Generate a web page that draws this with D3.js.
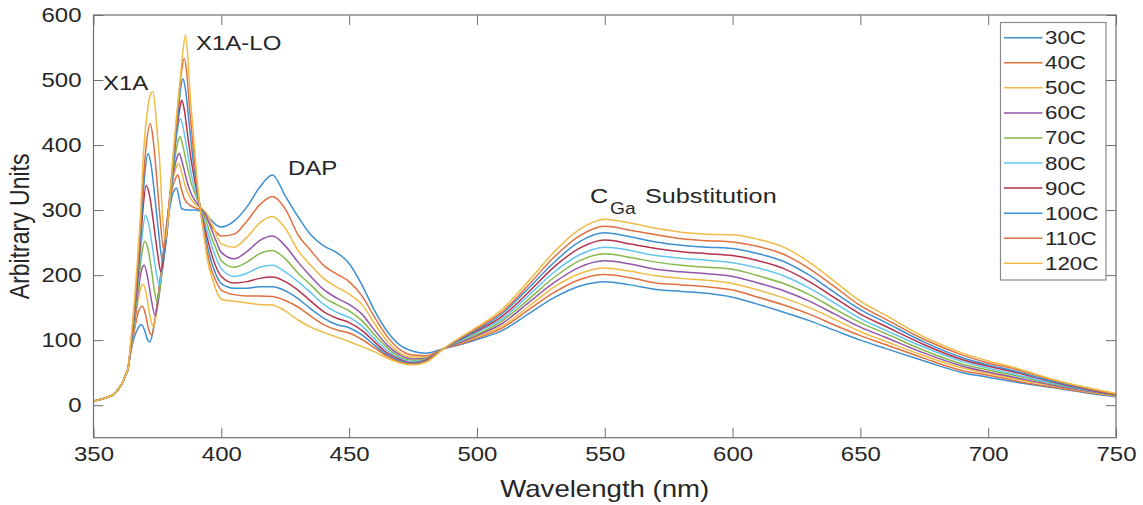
<!DOCTYPE html>
<html>
<head>
<meta charset="utf-8">
<script src="https://cdn.jsdelivr.net/npm/d3@7"></script>
<style>
  body { margin: 0; background: #fff; }
  text { font-family: "Liberation Sans", Arial, sans-serif; fill: #262626; }
</style>
</head>
<body>
<div id="chart"></div>
<script>
// PL spectra vs temperature
const labels = ["30C", "40C", "50C", "60C", "70C", "80C", "90C", "100C", "110C", "120C"];
const colors = ["#3d8fd1", "#e0703f", "#efbb45", "#9556a8", "#86b84a", "#62c5ef", "#b5324b", "#3d8fd1", "#e0703f", "#efbb45"];

// common onset, all curves overlap here
const headStart = [[350, 6], [353, 9], [356, 13], [358, 17], [360, 26], [361.5, 36], [362.5, 46], [363.5, 56]];

// X1A / X1A-LO region, [wavelength, value]
const h30 = [[364.5,80],[366,105],[367.5,119],[368.7,124],[370,115],[371,102],[372,97],[373.5,118],[375.5,175],[377.5,240],[379.5,295],[381,325],[382.5,334],[383.5,318],[384.5,302],[387,300],[390,300],[392,298],[394,294],[396,285],[398,277],[400,274]];
const h40 = [[364.5,81],[366,115],[367.5,143],[368.5,151],[369.2,152],[370.3,140],[371.5,118],[372.7,108],[374.2,135],[376,190],[378,258],[380,318],[382,348],[383,354],[384.2,335],[385.5,318],[387.5,308],[390,303],[392,300],[394,290],[396,276],[398,266],[400,260]];
const h50 = [[364.5,82],[366,120],[367.5,163],[368.6,182],[369.5,186],[370.7,170],[372.2,135],[373.4,120],[375,150],[376.8,210],[378.6,275],[380.5,335],[382.3,365],[383.3,372],[384.5,358],[386,335],[388,318],[390,308],[392,303],[394,296],[396,282],[398,262],[400,248]];
const h60 = [[364.5,83],[366,125],[367.5,175],[368.8,208],[369.8,215],[371,200],[372.5,165],[374.1,138],[375.5,165],[377.3,225],[379,290],[381,350],[382.6,380],[383.5,387],[384.8,372],[386.5,345],[388,327],[390,313],[392,303],[394,292],[396,272],[398,252],[400,235]];
const h70 = [[364.5,84],[366,130],[367.5,185],[369,235],[370,252],[371.2,242],[372.8,205],[374,172],[374.8,160],[376.2,185],[378,245],[379.8,310],[381.5,370],[383,405],[383.8,413],[385,398],[386.5,370],[388,345],[390,322],[392,303],[394,284],[396,260],[398,240],[400,222]];
const h80 = [[364.5,86],[366,135],[367.5,195],[369,260],[370.3,292],[371.5,280],[373,245],[374.5,205],[375.7,185],[377,210],[378.7,270],[380.3,335],[382,400],[383.2,432],[384,441],[385,428],[386.5,395],[388,360],[390,328],[392,302],[394,275],[396,248],[398,226],[400,210]];
const h90 = [[364.5,88],[366,140],[367.5,205],[369,285],[370.6,338],[371.8,325],[373.5,280],[375,235],[376.4,205],[377.8,235],[379.5,300],[381,365],[382.5,420],[383.7,455],[384.5,469],[385.5,455],[387,410],[388.5,370],[390,338],[392,300],[394,265],[396,235],[398,212],[400,198]];
const h100 = [[364.5,90],[366,145],[367.5,215],[369,300],[370.3,365],[371.3,387],[372.5,370],[374,320],[375.5,265],[377,222],[378.5,255],[380,315],[381.5,380],[383,445],[384.2,490],[385,502],[386,485],[387.5,430],[389,375],[390.5,335],[392,297],[394,255],[396,222],[398,200],[400,187]];
const h110 = [[364.5,92],[366,150],[367.5,225],[369,320],[370.5,395],[372.2,433],[373.3,410],[374.5,360],[376,290],[377.4,240],[378.5,265],[380,330],[381.5,395],[383,460],[384.5,515],[385.5,533],[386.5,510],[387.5,460],[389,395],[390.5,340],[392,295],[394,245],[396,210],[398,190],[400,177]];
const h120 = [[364.5,95],[366,160],[367.5,240],[368.5,300],[369.5,385],[371,450],[372.3,478],[373.2,482],[374.2,455],[375,415],[375.8,380],[377.1,285],[378,255],[379.3,290],[380.3,340],[381.2,387],[382.5,445],[383.8,495],[385,545],[386,569],[387,530],[387.6,490],[389,420],[390.2,361],[391.5,310],[392.8,274],[394.5,225],[396.7,192],[398.5,172],[400.5,162]];

// DAP + C_Ga region on a shared wavelength grid
const wlTail = [405,410,415,420,425,430,435,440,445,450,455,460,465,470,475,480,487,495,500,510,520,530,540,550,560,570,580,590,600,610,620,630,640,650,660,675,690,700,710,725,740,750];
const t30  = [283,305,335,354,322,290,262,245,235,218,185,145,113,92,83,80,87, 95,101,115,140,165,183,190,185,178,175,172,166,155,143,130,115,100,87,68,50,43,36,27,18,13];
const t40  = [263,283,308,321,302,262,238,215,202,190,168,135,105,85,77,76,87, 96,103,119,146,173,193,201,196,188,185,182,177,166,154,140,123,107,93,72,53,46,38,28,19,14];
const t50  = [243,258,280,290,272,238,215,195,182,171,155,125,98,80,74,74,87, 98,105,122,151,181,202,211,206,199,195,192,187,177,165,150,132,113,98,76,57,49,41,30,20,14];
const t60  = [225,236,253,260,245,220,198,178,165,155,140,115,92,77,71,72,87, 99,107,126,157,188,212,222,217,209,205,202,198,188,176,160,140,120,104,80,60,51,43,31,21,15];
const t70  = [212,220,233,238,225,203,185,166,155,145,130,108,88,74,69,71,87, 101,109,130,162,196,222,233,227,220,215,212,209,199,187,170,148,127,110,84,63,54,46,33,22,15];
const t80  = [198,203,212,215,205,190,173,155,143,135,122,102,84,72,67,70,87, 102,112,133,168,204,231,243,238,230,226,223,219,211,199,180,157,133,115,89,67,57,48,34,22,16];
const t90  = [188,190,195,197,190,177,160,144,134,127,115,97,80,70,65,69,87, 104,114,137,173,212,241,254,248,241,236,233,230,222,210,190,165,140,121,93,70,60,51,36,23,16];
const t100 = [180,180,182,182,176,164,148,134,124,119,108,92,77,68,64,68,87, 105,116,141,179,219,251,265,259,251,246,243,241,233,221,200,173,147,127,97,73,62,53,37,24,17];
const t110 = [170,168,168,167,161,151,137,124,116,111,101,88,75,66,63,67,87, 107,118,144,184,227,260,275,269,262,256,253,251,244,232,210,182,153,132,101,77,65,56,39,25,17];
const t120 = [160,157,155,154,145,131,120,112,105,98,90,82,72,65,62,66,87, 108,120,148,190,235,270,286,280,272,266,263,262,255,243,220,190,160,138,105,80,68,58,40,26,18];

const heads = [h30, h40, h50, h60, h70, h80, h90, h100, h110, h120];
const tails = [t30, t40, t50, t60, t70, t80, t90, t100, t110, t120];

const xTicks = [350, 400, 450, 500, 550, 600, 650, 700, 750];
const yTicks = [0, 100, 200, 300, 400, 500, 600];

const series = labels.map((lab, i) => ({
  label: lab,
  color: colors[i],
  points: headStart.concat(heads[i], wlTail.map((w, j) => [w, tails[i][j]]))
}));

const width = 1143, height = 505;
const margin = {left: 93.5, right: 27, top: 15, bottom: 67.3};
const SX = 1.2; // text in the reference is stretched horizontally

const svg = d3.select("#chart").append("svg")
  .attr("width", width)
  .attr("height", height);

const x = d3.scaleLinear().domain([350, 750]).range([margin.left, width - margin.right]);
const y = d3.scaleLinear().domain([-50, 600]).range([height - margin.bottom, margin.top]);

svg.append("defs").append("clipPath").attr("id", "clip")
  .append("rect")
  .attr("x", x(350)).attr("y", y(600))
  .attr("width", x(750) - x(350)).attr("height", y(-50) - y(600));

// curves
const line = d3.line()
  .x(d => x(d[0]))
  .y(d => y(d[1]))
  .curve(d3.curveMonotoneX);

svg.append("g").attr("clip-path", "url(#clip)")
  .selectAll("path")
  .data(series)
  .join("path")
  .attr("fill", "none")
  .attr("stroke", d => d.color)
  .attr("stroke-width", 1.5)
  .attr("d", d => line(d.points));

// axes, ticks pointing inward like MATLAB
const axisColor = "#6e6e6e";
const tk = 10;

const gx = svg.append("g")
  .attr("transform", `translate(0,${y(-50)})`)
  .call(d3.axisBottom(x).tickValues(xTicks).tickSize(-tk).tickPadding(9).tickSizeOuter(0));
gx.selectAll("text").attr("transform", `scale(${SX},1)`);

const gy = svg.append("g")
  .attr("transform", `translate(${x(350)},0)`)
  .call(d3.axisLeft(y).tickValues(yTicks).tickSize(-tk).tickPadding(10).tickSizeOuter(0));
gy.selectAll("text").attr("transform", `scale(${SX},1)`).attr("x", -10);

svg.append("g")
  .attr("transform", `translate(0,${y(600)})`)
  .call(d3.axisTop(x).tickValues(xTicks).tickSize(-tk).tickFormat("").tickSizeOuter(0));
svg.append("g")
  .attr("transform", `translate(${x(750)},0)`)
  .call(d3.axisRight(y).tickValues(yTicks).tickSize(-tk).tickFormat("").tickSizeOuter(0));

svg.selectAll(".domain").remove();
svg.selectAll(".tick line").attr("stroke", axisColor);
svg.selectAll(".tick text")
  .style("font-size", "20px")
  .style("fill", "#262626");

svg.append("rect")
  .attr("x", x(350)).attr("y", y(600))
  .attr("width", x(750) - x(350)).attr("height", y(-50) - y(600))
  .attr("fill", "none")
  .attr("stroke", axisColor)
  .attr("stroke-width", 1.2);

// labels
function label(tx, ty, str, size, anchor, extra) {
  return svg.append("text")
    .attr("transform", `translate(${tx},${ty}) scale(${SX},1)` + (extra || ""))
    .attr("text-anchor", anchor || "start")
    .style("font-size", size + "px")
    .text(str);
}

label((x(350) + x(750)) / 2, 497, "Wavelength (nm)", 23, "middle");
label(29, (y(600) + y(-50)) / 2, "Arbitrary Units", 23, "middle", " rotate(-90)");

label(103, 90, "X1A", 20);
label(196, 50, "X1A-LO", 20);
label(288, 175, "DAP", 20);
label(590, 203, "C", 21);
label(610, 214, "Ga", 16);
label(645, 203, "Substitution", 21);

// legend
const lg = svg.append("g");
lg.append("rect")
  .attr("x", 1000.5).attr("y", 22.5)
  .attr("width", 105.5).attr("height", 257.5)
  .attr("fill", "#fff")
  .attr("stroke", "#8a8a8a")
  .attr("stroke-width", 1.2);

const item = lg.selectAll("g.item")
  .data(series)
  .join("g")
  .attr("class", "item")
  .attr("transform", (d, i) => `translate(0,${37.7 + i * 25.07})`);

item.append("line")
  .attr("x1", 1004).attr("x2", 1042.5)
  .attr("stroke", d => d.color)
  .attr("stroke-width", 1.5);

item.append("text")
  .attr("transform", `translate(1045,6.5) scale(${SX},1)`)
  .style("font-size", "18.6px")
  .text(d => d.label);
</script>
</body>
</html>
